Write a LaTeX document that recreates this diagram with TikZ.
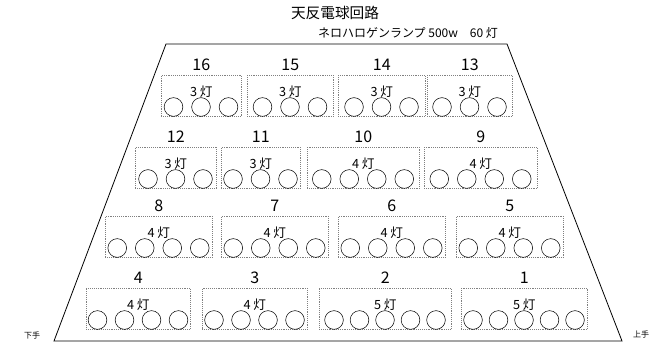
\documentclass[tikz,border=0pt]{standalone}
\usepackage{fontspec}
\setmainfont{Noto Sans CJK JP}
\tikzset{
  lampbox/.style={
    draw=gray,
    densely dotted,
    inner sep=0pt,
    anchor=north west,
  },
  lamp/.style={
    circle,
    draw,
    thin,
    minimum size=14pt,
    inner sep=0pt,
  },
  numlabel/.style={font=\fontsize{12}{14}\selectfont, inner sep=0pt},
  countlabel/.style={font=\fontsize{9.5}{11}\selectfont, inner sep=0pt},
  sidelabel/.style={font=\fontsize{6}{7}\selectfont, inner sep=0pt},
}

\begin{document}
\begin{tikzpicture}[x=0.75pt, y=-0.75pt]
  \useasboundingbox (0, 0) rectangle (667, 342);
  \draw[semithick] (166, 44) -- (507, 44) -- (622, 341) -- (54, 341) -- cycle;

  \node[font=\fontsize{11}{13}\selectfont] (title) at (335, 13) {天反電球回路};
  \node[font=\fontsize{9}{11}\selectfont] (spec) at (408, 33) {ネロハロゲンランプ 500w\quad 60 灯};
  \node[sidelabel] (shimote) at (32, 335) {下手};
  \node[sidelabel] (kamite) at (641, 334) {上手};

  \foreach \num/\xl/\xr/\n/\yt/\sp in {
    16/161/241/3/75/27.5,
    15/247/333/3/75/27.5,
    14/338/425/3/75/27.5,
    13/427/512/3/75/27.5,
    12/135/216/3/147/27.5,
    11/221/300/3/147/27.5,
    10/307/419/4/147/27.5,
    9/424/537/4/147/27.5,
    8/105/212/4/216/27.5,
    7/221/328/4/216/27.5,
    6/338/445/4/216/27.5,
    5/456/563/4/216/27.5,
    4/86/190/4/288/27,
    3/202/307/4/288/27,
    2/319/451/5/288/25.5,
    1/461/587/5/288/25.5
  }{
    \pgfmathsetmacro\cx{(\xl+\xr)/2}
    \node[lampbox, minimum width={(\xr-\xl)*0.75pt}, minimum height=30.75pt]
      (box\num) at (\xl, \yt) {};
    \node[numlabel] (no\num) at ([yshift=7.5pt]box\num.north) {\num};
    \node[countlabel] (cnt\num) at ([yshift=-12.75pt]box\num.north) {\n\ 灯};
    \foreach \k in {1,...,\n}
      \node[lamp] (lamp\num-\k) at ({\cx+(\k-(\n+1)/2)*\sp}, \yt+32) {};
  }
\end{tikzpicture}
\end{document}
